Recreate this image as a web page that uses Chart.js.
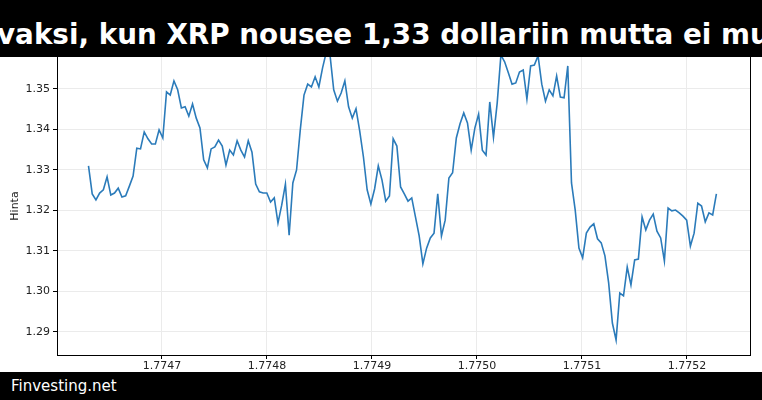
<!DOCTYPE html>
<html><head><meta charset="utf-8">
<script src="https://cdn.jsdelivr.net/npm/chart.js@4"></script>
<style>
body{margin:0;width:762px;height:400px;overflow:hidden;background:#fff;font-family:"DejaVu Sans",sans-serif;position:relative}
#t{position:absolute;left:0;top:0;width:762px;height:57px;background:#000;overflow:hidden;z-index:2}
#t span{position:absolute;left:-3px;top:17px;white-space:nowrap;color:#fff;font-weight:bold;font-size:27.8px;line-height:36px}
#f{position:absolute;left:0;top:372px;width:762px;height:28px;background:#000;color:#fff;font-size:15px;line-height:28px;padding-left:11px;box-sizing:border-box;z-index:2}
#c{position:absolute;left:0;top:0}
</style></head><body>
<div id="t"><span>vaksi, kun XRP nousee 1,33 dollariin mutta ei murra vastusta</span></div>
<canvas id="c" width="762" height="372"></canvas>
<div id="f">Finvesting.net</div>
<script>
const xStart = 1.77463, xEnd = 1.775228;
const prices = [1.3310,1.3241,1.3226,1.3243,1.3251,1.3283,1.3238,1.3243,1.3255,1.3233,1.3236,1.3260,1.3285,1.3354,1.3352,1.3394,1.3377,1.3364,1.3364,1.3399,1.3379,1.3493,1.3485,1.3520,1.3498,1.3453,1.3456,1.3433,1.3463,1.3428,1.3404,1.3325,1.3305,1.3352,1.3357,1.3374,1.3359,1.3312,1.3349,1.3337,1.3372,1.3349,1.3332,1.3372,1.3344,1.3265,1.3246,1.3243,1.3243,1.3221,1.3231,1.3169,1.3213,1.3265,1.3139,1.3268,1.3300,1.3399,1.3485,1.3512,1.3505,1.3530,1.3505,1.3552,1.3591,1.3584,1.3498,1.3470,1.3490,1.3520,1.3456,1.3428,1.3451,1.3396,1.3332,1.3251,1.3216,1.3253,1.3310,1.3275,1.3223,1.3236,1.3377,1.3359,1.3258,1.3241,1.3223,1.3231,1.3184,1.3137,1.3068,1.3107,1.3132,1.3144,1.3241,1.3137,1.3176,1.3280,1.3293,1.3379,1.3414,1.3441,1.3416,1.3349,1.3404,1.3438,1.3349,1.3337,1.3468,1.3381,1.3465,1.3584,1.3567,1.3540,1.3512,1.3515,1.3542,1.3547,1.3475,1.3557,1.3559,1.3582,1.3512,1.3470,1.3498,1.3483,1.3532,1.3480,1.3478,1.3557,1.3268,1.3201,1.3107,1.3083,1.3144,1.3159,1.3167,1.3130,1.3120,1.3088,1.3021,1.2922,1.2880,1.2996,1.2989,1.3060,1.3016,1.3078,1.3080,1.3184,1.3152,1.3176,1.3191,1.3149,1.3132,1.3075,1.3206,1.3199,1.3201,1.3194,1.3186,1.3176,1.3112,1.3144,1.3218,1.3211,1.3172,1.3194,1.3189,1.3241];
const xTicks = [1.7747,1.7748,1.7749,1.7750,1.7751,1.7752];
const yTicks = [1.29,1.30,1.31,1.32,1.33,1.34,1.35];
const step = (xEnd - xStart) / (prices.length - 1);
const pts = prices.map((v,i)=>({x:xStart+i*step,y:v}));
const tf = {family:"DejaVu Sans",size:11};
new Chart(document.getElementById('c'),{
 type:'line',
 data:{datasets:[{data:pts,borderColor:'#2b7bba',borderWidth:1.6,pointRadius:0,tension:0}]},
 options:{responsive:false,animation:false,
  layout:{padding:{top:57,right:12,left:9,bottom:0}},
  plugins:{legend:{display:false},tooltip:{enabled:false}},
  scales:{
   x:{type:'linear',min:1.77460,max:1.77526,
     afterBuildTicks:s=>{s.ticks=xTicks.map(v=>({value:v}));},
     afterFit:s=>{s.height=17;},
     ticks:{font:tf,color:'#222',padding:1,maxRotation:0,callback:v=>v.toFixed(4)},
     grid:{color:'#ebebeb',tickColor:'#000',tickLength:4},
     border:{color:'#000'}},
   y:{min:1.2843,max:1.3579,
     afterBuildTicks:s=>{s.ticks=yTicks.map(v=>({value:v}));},
     afterFit:s=>{s.width=48;},
     ticks:{font:tf,color:'#222',padding:3,callback:v=>v.toFixed(2)},
     title:{display:true,text:'Hinta',font:tf,color:'#222',padding:{top:0,bottom:0}},
     grid:{color:'#ebebeb',tickColor:'#000',tickLength:4},
     border:{color:'#000'}}
  }},
 plugins:[{id:'rb',afterDraw(ch){const a=ch.chartArea,c=ch.ctx;c.save();c.strokeStyle='#000';c.lineWidth=1;c.beginPath();c.moveTo(a.right+0.5,a.top);c.lineTo(a.right+0.5,a.bottom);c.stroke();c.restore();}}]
});
</script></body></html>
